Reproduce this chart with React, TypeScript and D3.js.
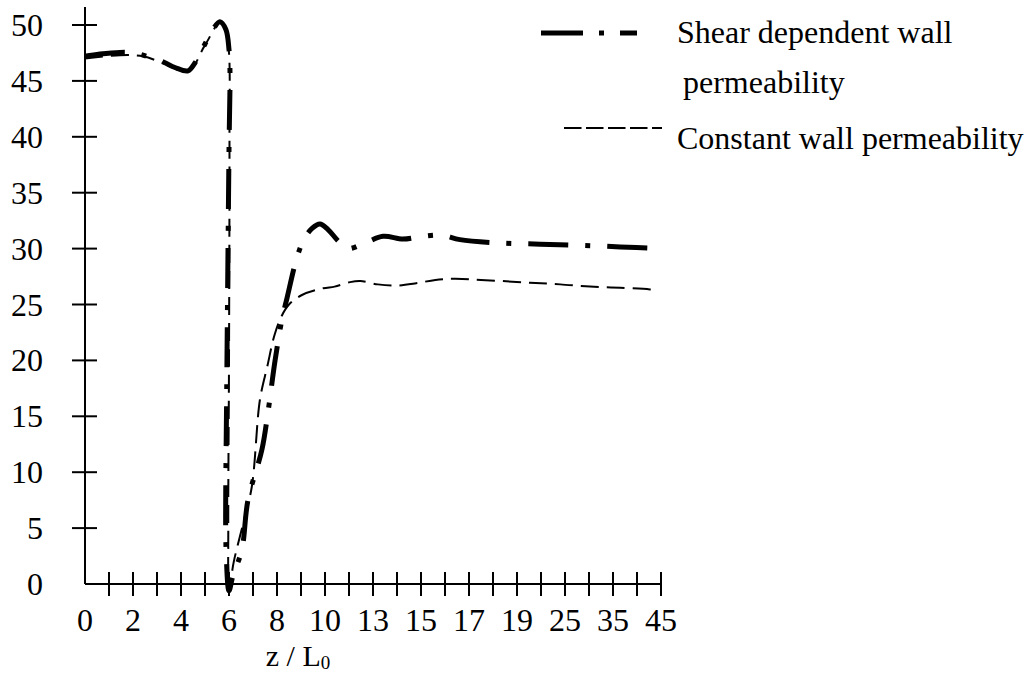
import React from "react";
import * as d3 from "d3";

// x-axis labels (non-uniform spacing on the printed axis)
const xTickLabels = [0, 2, 4, 6, 8, 10, 13, 15, 17, 19, 25, 35, 45];
const xMinorTicks = [1, 3, 5, 7, 9, 11.5, 14, 16, 18, 22, 30, 40];
const yTickValues = [0, 5, 10, 15, 20, 25, 30, 35, 40, 45, 50];

// Shear dependent wall permeability (z/L0, value)
const shearZ = [0, 0.62, 1.46, 2.08, 2.42, 3.25, 3.75, 4.29, 4.58, 5.0, 5.33, 5.62, 5.87, 6.0, 6.04, 6.0, 5.9, 5.86, 5.88, 6.0, 6.17, 6.53, 6.79, 7.37, 7.62, 7.92, 8.2, 8.42, 8.83, 9.12, 9.46, 9.79, 10.19, 10.81, 11.38, 12.5, 13.42, 14.25, 15.08, 15.87, 16.62, 18.29, 21.9, 28.1, 36.5, 44.8];
const shearV = [47.2, 47.4, 47.55, 47.5, 47.3, 46.7, 46.2, 45.9, 46.6, 48.3, 49.6, 50.3, 49.6, 47.8, 46.0, 38.8, 16.3, 6.0, 3.0, -0.6, 0.8, 3.0, 7.5, 12.0, 15.3, 20.0, 23.6, 25.6, 29.2, 30.8, 31.8, 32.2, 31.7, 30.7, 30.0, 30.5, 31.1, 30.85, 31.1, 31.2, 30.8, 30.5, 30.4, 30.3, 30.15, 30.0];

// Constant wall permeability (z/L0, value)
const constZ = [0, 1.46, 2.42, 3.25, 4.29, 5.0, 5.62, 5.87, 6.0, 6.02, 6.0, 5.97, 6.0, 6.2, 6.6, 6.95, 7.29, 7.6, 7.9, 8.2, 8.5, 9.04, 9.92, 10.6, 11.56, 12.2, 13.2, 14.0, 14.8, 15.6, 16.4, 17.5, 20.6, 24.4, 30.2, 36.5, 42.7, 43.8];
const constV = [47.0, 47.3, 47.2, 46.6, 45.85, 48.2, 50.2, 49.5, 47.5, 40.0, 20.0, 5.0, -0.5, 2.0, 5.5, 8.7, 16.5, 19.5, 22.3, 24.0, 25.0, 25.85, 26.45, 26.6, 27.0, 27.1, 26.8, 26.7, 26.9, 27.2, 27.3, 27.2, 26.95, 26.8, 26.6, 26.5, 26.35, 26.3];

const FONT = "'Liberation Serif', 'Times New Roman', serif";

export default function App() {
  const x0 = 85;
  const step = 48;
  const x = d3
    .scaleLinear()
    .domain(xTickLabels)
    .range(xTickLabels.map((_, i) => x0 + i * step));
  const y = d3.scaleLinear().domain([0, 50]).range([584, 25]);

  const line = d3
    .line<[number, number]>()
    .x((d) => x(d[0]))
    .y((d) => y(d[1]))
    .curve(d3.curveCatmullRom.alpha(0.5));

  const shear: [number, number][] = shearZ.map((z, i) => [z, shearV[i]]);
  const constant: [number, number][] = constZ.map((z, i) => [z, constV[i]]);

  const yAxisY = y(0);
  const fs = 32;

  return (
    <svg
      width={1034}
      height={675}
      style={{ position: "absolute", left: 0, top: 0, background: "#fff" }}
      fontFamily={FONT}
    >
      {/* axes */}
      <line x1={x0} x2={x0} y1={7} y2={yAxisY} stroke="#000" strokeWidth={2} />
      <line x1={x0} x2={x(45)} y1={yAxisY} y2={yAxisY} stroke="#000" strokeWidth={2} />
      {yTickValues.map((v) => (
        <g key={"y" + v}>
          {v !== 0 && (
            <line x1={x0 - 13} x2={x0 + 12} y1={y(v)} y2={y(v)} stroke="#000" strokeWidth={2} />
          )}
          <text x={43} y={y(v) + 11} fontSize={fs} textAnchor="end">
            {v}
          </text>
        </g>
      ))}
      {[...xTickLabels.slice(1), ...xMinorTicks].map((v) => (
        <line
          key={"xt" + v}
          x1={x(v)}
          x2={x(v)}
          y1={yAxisY - 12}
          y2={yAxisY + 12}
          stroke="#000"
          strokeWidth={2}
        />
      ))}
      {xTickLabels.map((v) => (
        <text key={"xl" + v} x={x(v)} y={631} fontSize={fs} textAnchor="middle">
          {v}
        </text>
      ))}
      <text x={298} y={666} fontSize={30} textAnchor="middle">
        z / L<tspan fontSize={19} dy={3}>0</tspan>
      </text>

      {/* series */}
      <path
        d={line(constant) || ""}
        fill="none"
        stroke="#000"
        strokeWidth={2}
        strokeDasharray="18 8"
      />
      <path
        d={line(shear) || ""}
        fill="none"
        stroke="#000"
        strokeWidth={5}
        strokeDasharray="40 17 5 17"
      />

      {/* legend */}
      <line x1={541} x2={583} y1={33} y2={33} stroke="#000" strokeWidth={5} />
      <line x1={599} x2={604} y1={33} y2={33} stroke="#000" strokeWidth={5} />
      <line x1={620} x2={637} y1={33} y2={33} stroke="#000" strokeWidth={5} />
      <text x={677} y={43} fontSize={fs}>Shear dependent wall</text>
      <text x={683} y={93} fontSize={fs}>permeability</text>
      <line x1={564} x2={662} y1={128} y2={128} stroke="#000" strokeWidth={2} strokeDasharray="17.5 4.5" />
      <text x={677} y={149} fontSize={fs}>Constant wall permeability</text>
    </svg>
  );
}
